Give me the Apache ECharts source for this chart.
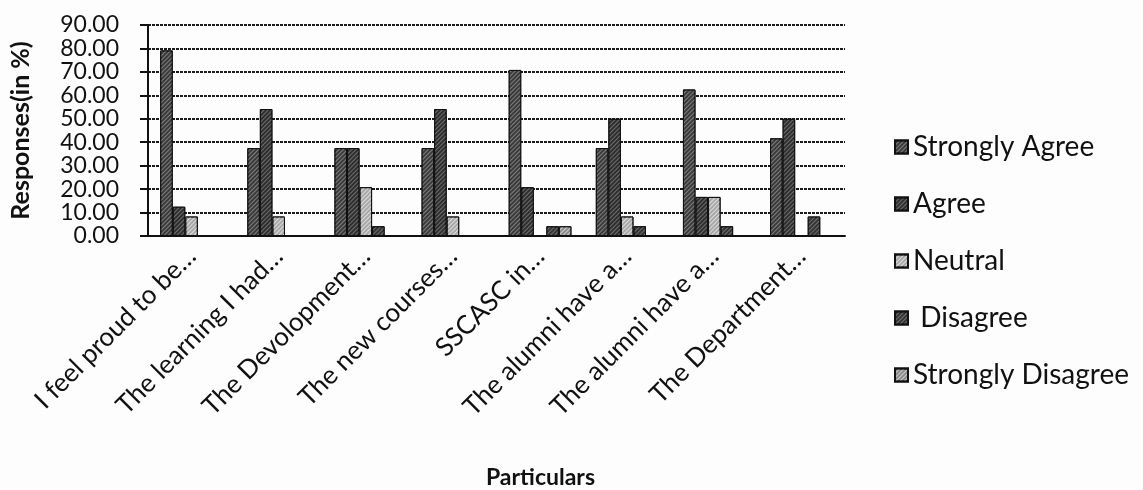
<!DOCTYPE html>
<html>
<head>
<meta charset="utf-8">
<script src="https://cdn.jsdelivr.net/npm/echarts@6/dist/echarts.min.js"></script>
<style>html,body{margin:0;padding:0;background:#fdfdfd;}#c{width:1143px;height:490px;}</style>
</head>
<body>
<div id="c"></div>
<script>
const categories = ["I feel proud to be…", "The learning I had…", "The Devolopment…", "The new courses…", "SSCASC in…", "The alumni have a…", "The alumni have a…", "The Department…"];
const seriesNames = ["Strongly Agree", "Agree", "Neutral", " Disagree", "Strongly Disagree"];
const stronglyAgree = [79.17, 37.5, 37.5, 37.5, 70.83, 37.5, 62.5, 41.67];
const agree = [12.5, 54.17, 37.5, 54.17, 20.83, 50, 16.67, 50];
const neutral = [8.33, 8.33, 20.83, 8.33, 0, 8.33, 16.67, 0];
const disagree = [0, 0, 4.17, 0, 4.17, 4.17, 4.17, 8.33];
const stronglyDisagree = [0, 0, 0, 0, 4.17, 0, 0, 0];
const yTicks = [0, 10, 20, 30, 40, 50, 60, 70, 80, 90];

const values = [stronglyAgree, agree, neutral, disagree, stronglyDisagree];
const colors = ['#3a3a3a', '#2e2e2e', '#a8a8a8', '#333333', '#8a8a8a'];
const decalColors = ['rgba(255,255,255,0.35)', 'rgba(255,255,255,0.3)', 'rgba(255,255,255,0.6)', 'rgba(255,255,255,0.3)', 'rgba(255,255,255,0.55)'];
const font = 'Lato, "Open Sans", sans-serif';

const chart = echarts.init(document.getElementById('c'));
chart.setOption({
  backgroundColor: '#fdfdfd',
  animation: false,
  grid: { left: 147, right: 298, top: 25, bottom: 253 },
  legend: {
    orient: 'vertical',
    left: 889,
    top: 127,
    itemGap: 27,
    itemWidth: 13,
    itemHeight: 13,
    icon: 'rect',
    textStyle: { fontFamily: font, fontSize: 28, color: '#111', lineHeight: 30 },
    data: seriesNames
  },
  xAxis: {
    type: 'category',
    data: categories,
    name: 'Particulars',
    nameLocation: 'middle',
    nameGap: 230,
    nameTextStyle: { fontFamily: font, fontSize: 23, fontWeight: 'bold', color: '#111', padding: [0, 0, 0, 88] },
    axisLine: { lineStyle: { color: '#111', width: 2 } },
    axisTick: { show: false },
    axisLabel: { rotate: 45, interval: 0, fontFamily: font, fontSize: 26, color: '#111', margin: 16 }
  },
  yAxis: {
    type: 'value',
    min: 0,
    max: 90,
    interval: 10,
    name: 'Responses(in %)',
    nameLocation: 'middle',
    nameGap: 115,
    nameTextStyle: { fontFamily: font, fontSize: 25, fontWeight: 'bold', color: '#111' },
    axisLine: { show: true, lineStyle: { color: '#111', width: 2 } },
    axisTick: { show: true, length: 8, lineStyle: { color: '#111', width: 2 } },
    axisLabel: {
      fontFamily: font, fontSize: 23, color: '#111', margin: 29,
      formatter: v => yTicks.includes(v) ? v.toFixed(2) : ''
    },
    splitLine: { lineStyle: { color: '#1a1a1a', width: 2, type: [3, 1] } }
  },
  series: values.map((d, i) => ({
    name: seriesNames[i],
    type: 'bar',
    data: d,
    barGap: '0%',
    barCategoryGap: '28%',
    itemStyle: {
      color: colors[i],
      borderColor: '#111',
      borderWidth: 1,
      decal: {
        symbol: 'rect',
        symbolSize: 1,
        dashArrayX: [1, 0],
        dashArrayY: [1, 2],
        rotation: -Math.PI / 4,
        color: decalColors[i]
      }
    }
  }))
});
</script>
</body>
</html>
